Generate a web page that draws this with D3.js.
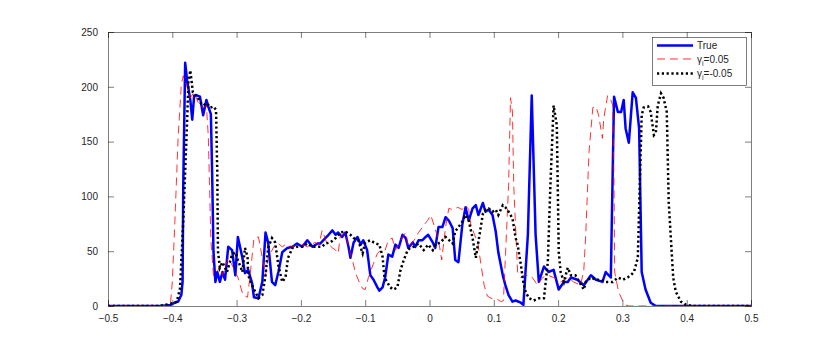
<!DOCTYPE html>
<html><head><meta charset="utf-8">
<script src="https://cdn.jsdelivr.net/npm/d3@7"></script>
<style>body{margin:0;background:#fff;} svg{display:block;} text{font-family:"Liberation Sans",Arial,Helvetica,sans-serif;}</style>
</head><body>
<svg id="c" width="830" height="344"></svg>
<script>
const xTicks = [-0.5,-0.4,-0.3,-0.2,-0.1,0,0.1,0.2,0.3,0.4,0.5];
const yTicks = [0,50,100,150,200,250];
const seriesNames = ["True","γi=0.05","γi=-0.05"];

const trueSeries = [[-0.5,0],[-0.42,0],[-0.403,1],[-0.396,3],[-0.391,4],[-0.386,10],[-0.384,22],[-0.383,108],[-0.380,222],[-0.377,206],[-0.372,188],[-0.369,170],[-0.366,192],[-0.361,192],[-0.357,191],[-0.352,174],[-0.347,188],[-0.344,182],[-0.340,175],[-0.338,120],[-0.336,50],[-0.333,22],[-0.330,31],[-0.326,22],[-0.322,31],[-0.318,24],[-0.313,54],[-0.307,51],[-0.302,28],[-0.298,63],[-0.291,44],[-0.287,30],[-0.282,33],[-0.276,21],[-0.273,8],[-0.266,7],[-0.260,22],[-0.255,67],[-0.251,58],[-0.245,22],[-0.240,19],[-0.235,31],[-0.229,49],[-0.221,53],[-0.213,54],[-0.206,57],[-0.198,54],[-0.190,60],[-0.182,54],[-0.174,57],[-0.170,57],[-0.162,62],[-0.157,65],[-0.151,69],[-0.146,65],[-0.142,67],[-0.136,63],[-0.131,67],[-0.126,54],[-0.123,44],[-0.118,58],[-0.112,63],[-0.107,56],[-0.103,60],[-0.097,51],[-0.092,28],[-0.087,24],[-0.081,17],[-0.078,14],[-0.073,17],[-0.069,26],[-0.064,47],[-0.058,45],[-0.053,56],[-0.048,53],[-0.042,65],[-0.037,62],[-0.033,53],[-0.026,58],[-0.022,54],[-0.017,60],[-0.011,60],[-0.006,63],[-0.002,65],[0.005,58],[0.009,53],[0.014,72],[0.020,72],[0.025,81],[0.030,78],[0.036,71],[0.040,42],[0.045,40],[0.051,74],[0.056,90],[0.061,78],[0.067,89],[0.072,92],[0.076,83],[0.083,94],[0.087,86],[0.092,88],[0.098,83],[0.103,68],[0.107,49],[0.114,28],[0.118,19],[0.123,10],[0.129,4],[0.134,5],[0.142,3],[0.146,1],[0.153,65],[0.159,192],[0.165,65],[0.170,22],[0.178,36],[0.185,31],[0.193,33],[0.201,15],[0.209,22],[0.215,22],[0.220,26],[0.230,24],[0.240,19],[0.251,28],[0.259,24],[0.269,22],[0.274,31],[0.282,26],[0.287,191],[0.293,177],[0.298,177],[0.302,188],[0.305,162],[0.310,149],[0.316,195],[0.321,190],[0.326,162],[0.330,31],[0.336,15],[0.344,3],[0.352,0],[0.5,0]];

const gammaPos = [[-0.5,0],[-0.42,0],[-0.403,1],[-0.400,22],[-0.396,77],[-0.391,153],[-0.386,202],[-0.383,210],[-0.379,204],[-0.372,190],[-0.366,195],[-0.358,183],[-0.352,181],[-0.347,183],[-0.344,155],[-0.340,60],[-0.336,28],[-0.330,31],[-0.326,37],[-0.322,28],[-0.313,44],[-0.305,35],[-0.298,26],[-0.290,10],[-0.283,8],[-0.279,28],[-0.273,62],[-0.266,63],[-0.260,44],[-0.255,28],[-0.251,44],[-0.243,53],[-0.237,58],[-0.229,54],[-0.224,56],[-0.213,54],[-0.201,57],[-0.190,54],[-0.178,58],[-0.172,56],[-0.167,69],[-0.160,58],[-0.151,53],[-0.146,51],[-0.142,48],[-0.139,63],[-0.131,67],[-0.126,54],[-0.120,42],[-0.115,30],[-0.108,20],[-0.104,16],[-0.100,15],[-0.095,26],[-0.087,39],[-0.081,48],[-0.076,51],[-0.069,51],[-0.064,60],[-0.058,62],[-0.053,51],[-0.048,56],[-0.042,63],[-0.037,67],[-0.033,54],[-0.026,58],[-0.022,62],[-0.017,67],[-0.011,72],[-0.003,78],[0.002,83],[0.008,72],[0.014,60],[0.019,42],[0.025,72],[0.030,89],[0.036,88],[0.044,90],[0.051,88],[0.056,92],[0.061,88],[0.064,75],[0.070,65],[0.075,58],[0.080,38],[0.085,19],[0.090,9],[0.096,7],[0.106,6],[0.111,4],[0.115,5],[0.118,44],[0.123,110],[0.126,190],[0.129,177],[0.131,110],[0.137,31],[0.142,26],[0.146,28],[0.154,28],[0.160,26],[0.168,19],[0.176,26],[0.184,28],[0.193,26],[0.204,22],[0.215,26],[0.224,22],[0.235,19],[0.240,33],[0.243,65],[0.248,140],[0.254,181],[0.259,182],[0.263,174],[0.269,153],[0.271,171],[0.277,192],[0.282,188],[0.285,183],[0.287,110],[0.288,31],[0.294,13],[0.301,4],[0.305,1],[0.31,0],[0.5,0]];

const gammaNeg = [[-0.5,0],[-0.42,0],[-0.403,2],[-0.393,4],[-0.388,16],[-0.383,77],[-0.377,168],[-0.375,204],[-0.372,215],[-0.368,195],[-0.361,191],[-0.357,186],[-0.352,183],[-0.346,185],[-0.341,181],[-0.336,182],[-0.332,179],[-0.330,120],[-0.329,50],[-0.326,35],[-0.322,40],[-0.315,31],[-0.307,47],[-0.302,49],[-0.298,42],[-0.291,31],[-0.287,53],[-0.283,45],[-0.282,28],[-0.276,19],[-0.271,13],[-0.266,7],[-0.260,10],[-0.255,28],[-0.251,53],[-0.245,62],[-0.240,58],[-0.235,37],[-0.229,22],[-0.224,26],[-0.220,44],[-0.213,53],[-0.206,54],[-0.198,54],[-0.190,57],[-0.182,54],[-0.174,54],[-0.167,54],[-0.162,57],[-0.154,58],[-0.146,62],[-0.139,67],[-0.131,68],[-0.123,65],[-0.118,62],[-0.111,60],[-0.104,48],[-0.100,58],[-0.092,60],[-0.084,57],[-0.078,56],[-0.073,45],[-0.070,26],[-0.065,21],[-0.061,17],[-0.056,15],[-0.050,17],[-0.045,33],[-0.040,42],[-0.034,51],[-0.030,53],[-0.025,54],[-0.017,57],[-0.009,51],[-0.002,56],[0.005,51],[0.009,56],[0.017,58],[0.025,63],[0.036,57],[0.040,68],[0.045,72],[0.051,77],[0.056,83],[0.061,78],[0.067,62],[0.072,44],[0.077,62],[0.083,84],[0.088,88],[0.092,89],[0.098,86],[0.103,88],[0.107,83],[0.114,92],[0.118,90],[0.123,86],[0.129,80],[0.134,62],[0.137,56],[0.142,38],[0.146,21],[0.150,12],[0.155,7],[0.162,5],[0.170,7],[0.178,7],[0.184,40],[0.188,110],[0.193,183],[0.198,165],[0.201,49],[0.204,31],[0.209,22],[0.215,35],[0.220,28],[0.227,28],[0.235,20],[0.240,15],[0.243,22],[0.251,26],[0.259,24],[0.266,24],[0.274,22],[0.285,22],[0.293,26],[0.301,24],[0.308,26],[0.313,28],[0.318,31],[0.324,44],[0.327,110],[0.330,174],[0.333,181],[0.340,182],[0.344,177],[0.349,156],[0.352,158],[0.355,183],[0.360,194],[0.364,190],[0.369,177],[0.372,95],[0.379,26],[0.383,13],[0.391,4],[0.399,1],[0.41,0],[0.5,0]];

const svg = d3.select("#c");
const L = 108, R = 751, T = 32, B = 306;
const x = d3.scaleLinear().domain([-0.5,0.5]).range([L,R]);
const y = d3.scaleLinear().domain([0,250]).range([B,T]);
const axisColor = "#262626";

// clip
svg.append("defs").append("clipPath").attr("id","clip").append("rect")
  .attr("x",L).attr("y",T-3).attr("width",R-L).attr("height",B-T+3);

const line = d3.line().x(d=>x(d[0])).y(d=>y(d[1]));
const g = svg.append("g").attr("clip-path","url(#clip)");
g.append("path").datum(trueSeries).attr("d",line).attr("fill","none")
  .attr("stroke","#0000ff").attr("stroke-width",2.5).attr("stroke-linejoin","round");
g.append("path").datum(gammaPos).attr("d",line).attr("fill","none")
  .attr("stroke","#ff0000").attr("stroke-width",0.8).attr("stroke-dasharray","8,5");
g.append("path").datum(gammaNeg).attr("d",line).attr("fill","none")
  .attr("stroke","#000000").attr("stroke-width",2.5).attr("stroke-dasharray","2.2,2.6");

// axes
const fmt = d => d===0 ? "0" : d3.format(".1f")(d);
const xb = svg.append("g").attr("transform",`translate(0,${B})`)
  .call(d3.axisBottom(x).tickValues(xTicks).tickSize(-6).tickFormat(fmt).tickPadding(10));
const xt = svg.append("g").attr("transform",`translate(0,${T})`)
  .call(d3.axisTop(x).tickValues(xTicks).tickSize(-6).tickFormat(""));
const yl = svg.append("g").attr("transform",`translate(${L},0)`)
  .call(d3.axisLeft(y).tickValues(yTicks).tickSize(-6).tickPadding(10));
const yr = svg.append("g").attr("transform",`translate(${R},0)`)
  .call(d3.axisRight(y).tickValues(yTicks).tickSize(-6).tickFormat(""));
[xb,xt,yl,yr].forEach(a=>{
  a.select(".domain").attr("stroke",axisColor).attr("stroke-width",0.6);
  a.selectAll(".tick line").attr("stroke",axisColor).attr("stroke-width",0.6);
  a.selectAll("text").attr("fill",axisColor).style("font-size","10px")
   .style("font-family","'Liberation Sans',Arial,sans-serif");
});
xb.selectAll("text").attr("dy","0.55em");

// legend
const lg = svg.append("g");
lg.append("rect").attr("x",652.5).attr("y",37.5).attr("width",94).attr("height",48)
  .attr("fill","#fff").attr("stroke",axisColor).attr("stroke-width",0.6);
const items = [
  {name:seriesNames[0], color:"#0000ff", w:2.5, dash:null, yy:45.5},
  {name:seriesNames[1], color:"#ff0000", w:0.8, dash:"8,5", yy:59},
  {name:seriesNames[2], color:"#000000", w:2.5, dash:"2.2,2.6", yy:73.5}
];
items.forEach((it,i)=>{
  lg.append("line").attr("x1",657).attr("x2",693).attr("y1",it.yy).attr("y2",it.yy)
    .attr("stroke",it.color).attr("stroke-width",it.w).attr("stroke-dasharray",it.dash);
  const t = lg.append("text").attr("x",697).attr("y",it.yy).attr("dy","0.35em")
    .attr("fill",axisColor).style("font-size","10px");
  if (i===0) t.text(it.name);
  else {
    t.append("tspan").text("γ");
    t.append("tspan").text("i").attr("dy","3").style("font-size","7px");
    t.append("tspan").text(it.name.slice(2)).attr("dy","-3");
  }
});
</script>
</body></html>
